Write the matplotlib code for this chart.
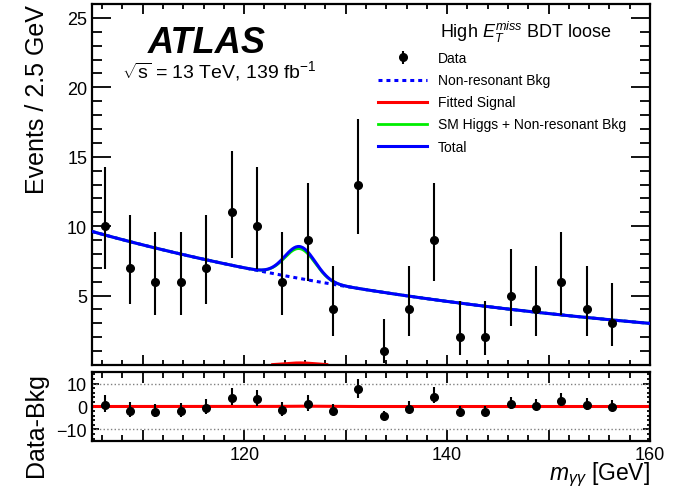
import numpy as np
import matplotlib
matplotlib.use('Agg')
import matplotlib.pyplot as plt
from matplotlib.ticker import MultipleLocator, FuncFormatter

plt.rcParams['font.family'] = ['Liberation Sans', 'DejaVu Sans']
plt.rcParams['mathtext.fontset'] = 'custom'
plt.rcParams['mathtext.rm'] = 'Liberation Sans'
plt.rcParams['mathtext.it'] = 'Liberation Sans:italic'
plt.rcParams['mathtext.bf'] = 'Liberation Sans:bold'

# binned diphoton mass data, 2.5 GeV bins from 105 to 160
bin_centers = [106.25, 108.75, 111.25, 113.75, 116.25, 118.75, 121.25, 123.75,
               126.25, 128.75, 131.25, 133.75, 136.25, 138.75, 141.25, 143.75,
               146.25, 148.75, 151.25, 153.75, 156.25]
counts = [10, 7, 6, 6, 7, 11, 10, 6, 9, 4, 13, 1, 4, 9, 2, 2, 5, 4, 6, 4, 3]
# poisson (garwood) error bars
err_lo = [3.11, 2.58, 2.38, 2.38, 2.58, 3.27, 3.11, 2.38, 2.94, 1.91, 3.56, 0.83,
          1.91, 2.94, 1.29, 1.29, 2.16, 1.91, 2.38, 1.91, 1.63]
err_hi = [4.27, 3.77, 3.58, 3.58, 3.77, 4.42, 4.27, 3.58, 4.11, 3.16, 4.70, 2.30,
          3.16, 4.11, 2.64, 2.64, 3.38, 3.16, 3.58, 3.16, 2.92]

# fit model: exponential continuum + SM higgs + fitted signal (events / 2.5 GeV)
bkg_norm = 9.62      # at 105 GeV
bkg_slope = -0.0212  # per GeV
higgs_mass = 125.5
higgs_sigma = 1.5
higgs_peak = 2.15
signal_peak = 0.15

def bkg(m):
    return bkg_norm * np.exp(bkg_slope * (m - 105.0))

def gauss(m, amp):
    return amp * np.exp(-0.5 * ((m - higgs_mass) / higgs_sigma) ** 2)

m = np.linspace(105, 160, 600)
nonres = bkg(m)
sig = gauss(m, signal_peak)
sm_plus_bkg = nonres + gauss(m, higgs_peak)
total = sm_plus_bkg + sig

x = np.array(bin_centers)
y = np.array(counts)
resid = y - (bkg(x) + gauss(x, higgs_peak))

fig = plt.figure(figsize=(6.8, 4.89), dpi=100)
ax = fig.add_axes([0.1353, 0.2515, 0.8206, 0.7382])
axr = fig.add_axes([0.1353, 0.0951, 0.8206, 0.1431])

hdata = ax.errorbar(x, y, yerr=[err_lo, err_hi], fmt='o', color='black', ms=5.5,
                    elinewidth=1.5, capsize=0, label='Data', zorder=5)
hnr, = ax.plot(m, nonres, color='blue', lw=2.2, ls=(0, (1.3, 1.3)), label='Non-resonant Bkg')
sig_main = np.where(sig > 0.03, sig, np.nan)
hsig, = ax.plot(m, sig_main, color='red', lw=2.2, label='Fitted Signal')
hsm, = ax.plot(m, sm_plus_bkg, color='#00ee00', lw=2.0, label='SM Higgs + Non-resonant Bkg')
htot, = ax.plot(m, total, color='blue', lw=2.2, label='Total', zorder=3)

ax.set_xlim(105, 160)
ax.set_ylim(0, 26)
ax.set_ylabel('Events / 2.5 GeV', fontsize=18, loc='top')
ax.yaxis.set_label_coords(-0.077, 1.0)

ax.text(0.100, 0.867, 'ATLAS', transform=ax.transAxes, fontsize=26,
        fontweight='bold', style='italic')
ax.text(0.054, 0.80, r'$\sqrt{\mathrm{s}}$ = 13 TeV, 139 fb$^{-1}$',
        transform=ax.transAxes, fontsize=14)
ax.text(0.624, 0.909, r'High $E_{T}^{miss}$ BDT loose', transform=ax.transAxes,
        fontsize=13)

ax.legend(handles=[hdata, hnr, hsig, hsm, htot], loc='upper left',
          bbox_to_anchor=(0.513, 0.869), frameon=False, fontsize=10,
          handlelength=3.5, handletextpad=0.8, labelspacing=0.58,
          borderpad=0, borderaxespad=0)

# residual panel
axr.axhline(10, color='gray', ls=':', lw=1)
axr.axhline(-10, color='gray', ls=':', lw=1)
axr.plot(m, sig, color='red', lw=2.2)
axr.errorbar(x, resid, yerr=[err_lo, err_hi], fmt='o', color='black', ms=5.5,
             elinewidth=1.5, capsize=0, zorder=5)
axr.set_xlim(105, 160)
axr.set_ylim(-15.3, 15.3)
axr.set_ylabel('Data-Bkg', fontsize=18)
axr.yaxis.set_label_coords(-0.078, 0.25)
axr.set_xlabel(r'$m_{\gamma\gamma}$ [GeV]', fontsize=16.5, loc='right')
axr.xaxis.set_label_coords(1.0, -0.265)

for a in (ax, axr):
    for s in a.spines.values():
        s.set_linewidth(1.6)
    a.xaxis.set_major_locator(MultipleLocator(10))
    a.xaxis.set_minor_locator(MultipleLocator(2))
    a.tick_params(which='both', direction='in', top=True, right=True,
                  labelsize=13, width=1.3)

ax.yaxis.set_major_locator(MultipleLocator(5))
ax.yaxis.set_minor_locator(MultipleLocator(1))
ax.yaxis.set_major_formatter(FuncFormatter(lambda v, p: '' if v == 0 else f'{v:g}'))
ax.tick_params(axis='y', which='major', length=14)
ax.tick_params(axis='y', which='minor', length=7)
ax.tick_params(axis='x', which='major', length=7, labelbottom=False)
ax.tick_params(axis='x', which='minor', length=3.5)

axr.yaxis.set_major_locator(MultipleLocator(10))
axr.yaxis.set_minor_locator(MultipleLocator(2))
axr.xaxis.set_major_formatter(FuncFormatter(lambda v, p: f'{v:g}' if v % 20 == 0 else ''))
axr.tick_params(axis='y', which='major', length=5)
axr.tick_params(axis='y', which='minor', length=2.5)
axr.tick_params(axis='x', which='major', length=8)
axr.tick_params(axis='x', which='minor', length=4)

fig.savefig('out.png', dpi=100)
